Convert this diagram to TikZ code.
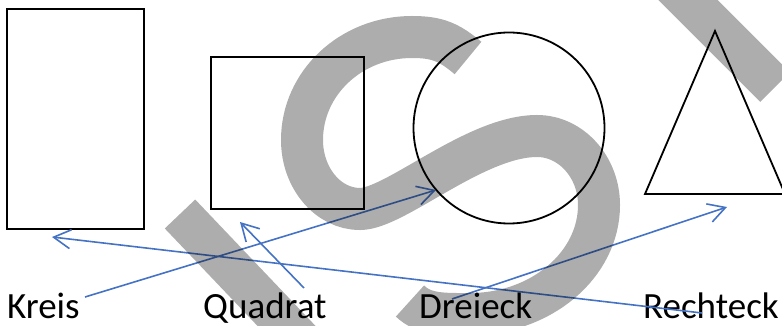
\documentclass[tikz,border=0pt]{standalone}
\usepackage{fontspec}
\setmainfont{Carlito}
\usetikzlibrary{arrows.meta}
\definecolor{wmgray}{HTML}{ADADAD}
\definecolor{arrowblue}{HTML}{4472C4}
\begin{document}
\begin{tikzpicture}[x=1pt,y=-1pt,
  shapeline/.style={draw=black,line width=1.8pt},
  lbl/.style={font=\fontsize{37}{41}\selectfont, inner sep=0pt, anchor=base west},
  conn/.style={draw=arrowblue,line width=1.6pt,-{Straight Barb[length=17pt,width=19pt]}},
  wm/.style={draw=wmgray,line width=42pt}]
\useasboundingbox (0,0) rectangle (782,326);

% shapes
\draw[shapeline] (7,9) rectangle (144,229);
\draw[shapeline] (211,57) rectangle (364,209);
\draw[shapeline] (509,128) circle[radius=95.5];
\draw[shapeline] (715,31) -- (785,194) -- (645,194) -- cycle;

% labels
\node[lbl] (kreis) at (7,318) {Kreis};
\node[lbl] (quadrat) at (203,318) {Quadrat};
\node[lbl] (dreieck) at (419,318) {Dreieck};
\node[lbl] (rechteck) at (643,318) {Rechteck};

% connectors
\coordinate (k0) at (85,297);  \coordinate (k1) at (436,190);
\coordinate (q0) at (304,288); \coordinate (q1) at (240,222);
\coordinate (r0) at (702,313); \coordinate (r1) at (52,237);
\coordinate (d0) at (452,299); \coordinate (d1) at (727,207);
\draw[conn] (k0) -- (k1);
\draw[conn] (q0) -- (q1);
\draw[conn] (r0) -- (r1);
\draw[conn] (d0) -- (d1);

% watermark
\begin{scope}[blend mode=multiply]
\clip (0,0) rectangle (782,326);
\draw[wm] (180,214) -- (318,359);
\draw[wm] (775,87) -- (625,-63);
\draw[wm] (468,58) .. controls (449,42) and (437,37) .. (412,37)
  .. controls (351,37) and (302,83) .. (302,140)
  .. controls (302,178) and (328,209) .. (360,209)
  .. controls (395,209) and (475,136) .. (537,136)
  .. controls (571,136) and (599,167) .. (599,205)
  .. controls (599,265) and (541,314) .. (470,314)
  .. controls (445,314) and (424,315) .. (410,301);
\end{scope}
\end{tikzpicture}
\end{document}
